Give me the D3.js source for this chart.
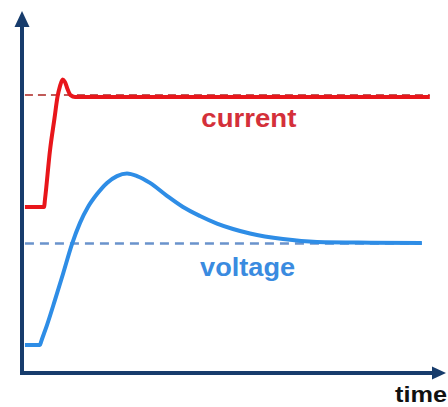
<!DOCTYPE html>
<html>
<head>
<meta charset="utf-8">
<script src="https://cdn.jsdelivr.net/npm/d3@7"></script>
<style>
  body { margin: 0; background: #fff; }
  text { font-family: "Liberation Sans", Arial, sans-serif; font-weight: bold; }
</style>
</head>
<body>
<script>
//data (time and level in arbitrary units, 0..100)
var current_t = [0.7, 5.24, 5.48, 6.67, 7.74, 8.45, 9.05, 9.69, 10.24, 10.83, 11.55, 12.62, 97.1];
var current_v = [46.1, 46.1, 48.3, 61.9, 70.8, 76.7, 79.7, 81.5, 80.8, 78.9, 77.2, 76.7, 76.7];
var current_ref = 77.2;

var voltage_t = [0.7, 4.29, 4.52, 5.95, 7.86, 9.76, 11.9, 13.81, 15.71, 17.86, 20.24, 22.62, 25.0,
                 27.38, 30.48, 34.52, 38.33, 42.38, 46.43, 50.24, 54.29, 62.14, 70.24, 82.9, 95.2];
var voltage_v = [7.8, 7.8, 8.6, 13.3, 20.3, 27.5, 35.8, 41.7, 46.1, 49.7, 52.8, 54.7, 55.4,
                 54.7, 52.8, 49.2, 46.1, 43.6, 41.5, 40.0, 38.75, 37.2, 36.4, 36.2, 36.1];
var voltage_ref = 36.0;

var labels = ['current', 'voltage', 'time'];

//sizes
var svg_width = 448;
var svg_height = 407;
var axis_color = '#173c6c';
var red = '#e8161b';
var blue = '#2e8de6';

var svg = d3.select('body').append('svg')
    .attr('width', svg_width)
    .attr('height', svg_height);

//scales
var scale_x = d3.scaleLinear().domain([0, 100]).range([22, 442]);
var scale_y = d3.scaleLinear().domain([0, 100]).range([373, 13]);

var line = d3.line()
    .x(function(d) { return scale_x(d[0]); })
    .y(function(d) { return scale_y(d[1]); })
    .curve(d3.curveMonotoneX);

var current = d3.zip(current_t, current_v);
var voltage = d3.zip(voltage_t, voltage_v);

//dashed reference levels (under the curves)
svg.append('line')
    .attr('x1', scale_x(current_t[0])).attr('x2', scale_x(current_t[current_t.length - 1]))
    .attr('y1', scale_y(current_ref)).attr('y2', scale_y(current_ref))
    .attr('stroke', '#c05a58').attr('stroke-width', 2)
    .attr('stroke-dasharray', '8,5');
svg.append('line')
    .attr('x1', scale_x(voltage_t[0])).attr('x2', scale_x(voltage_t[voltage_t.length - 1]))
    .attr('y1', scale_y(voltage_ref)).attr('y2', scale_y(voltage_ref))
    .attr('stroke', '#6a93cc').attr('stroke-width', 2.5)
    .attr('stroke-dasharray', '9,6');

//curves
svg.append('path').datum(current)
    .attr('d', line)
    .attr('fill', 'none')
    .attr('stroke', red)
    .attr('stroke-width', 4)
    .attr('stroke-linejoin', 'round');
svg.append('path').datum(voltage)
    .attr('d', line)
    .attr('fill', 'none')
    .attr('stroke', blue)
    .attr('stroke-width', 4)
    .attr('stroke-linejoin', 'round');

//axes (plain arrows, no ticks)
var x0 = scale_x.range()[0], y0 = scale_y.range()[0];
svg.append('path')
    .attr('d', 'M' + x0 + ',' + (y0 + 2) + 'V25')
    .attr('stroke', axis_color).attr('stroke-width', 4).attr('fill', 'none');
svg.append('path')
    .attr('d', 'M' + x0 + ',11L' + (x0 + 7.5) + ',27L' + (x0 - 7.5) + ',27Z')
    .attr('fill', axis_color);
svg.append('path')
    .attr('d', 'M' + (x0 - 2) + ',' + y0 + 'H434')
    .attr('stroke', axis_color).attr('stroke-width', 4).attr('fill', 'none');
svg.append('path')
    .attr('d', 'M446,' + y0 + 'L432,' + (y0 - 6.5) + 'L432,' + (y0 + 6.5) + 'Z')
    .attr('fill', axis_color);

//labels
svg.append('text')
    .attr('x', scale_x(42.7)).attr('y', scale_y(68.4))
    .attr('font-size', 26).attr('fill', '#d4303a')
    .attr('textLength', 95).attr('lengthAdjust', 'spacingAndGlyphs')
    .text(labels[0]);
svg.append('text')
    .attr('x', scale_x(42.4)).attr('y', scale_y(26.9))
    .attr('font-size', 26).attr('fill', '#3a8be0')
    .attr('textLength', 95).attr('lengthAdjust', 'spacingAndGlyphs')
    .text(labels[1]);
svg.append('text')
    .attr('x', 395).attr('y', 402)
    .attr('font-size', 22).attr('fill', '#111')
    .attr('textLength', 52).attr('lengthAdjust', 'spacingAndGlyphs')
    .text(labels[2]);
</script>
</body>
</html>
